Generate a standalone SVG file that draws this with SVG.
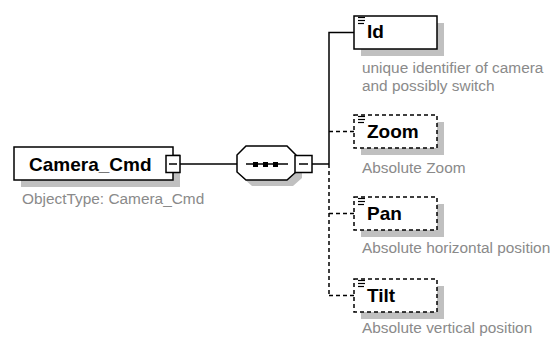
<svg xmlns="http://www.w3.org/2000/svg" width="558" height="349" viewBox="0 0 558 349">
<style>
.bg{fill:#ffffff}
.shadow{fill:#c0c0c0;stroke:none}
.box{fill:#ffffff;stroke:#000000;stroke-width:1.5}
.opt{fill:#ffffff;stroke:#000000;stroke-width:1.5;stroke-dasharray:4 3}
.lbl{font-family:"Liberation Sans",Arial,sans-serif;font-weight:bold;font-size:19px;fill:#000000}
.desc{font-family:"Liberation Sans",Arial,sans-serif;font-size:15.4px;fill:#8a8a8a}
.ln{fill:none;stroke:#000000;stroke-width:1.5}
.dash{fill:none;stroke:#000000;stroke-width:1.5;stroke-dasharray:4 3}
.icon{stroke:#000000;stroke-width:1.2}
</style>
<rect class="bg" x="0" y="0" width="558" height="349"/>
<defs>
<g id="ico">
<line class="icon" x1="0" y1="0.5" x2="7" y2="0.5"/>
<line class="icon" x1="0" y1="3.5" x2="7" y2="3.5"/>
<line class="icon" x1="0" y1="6.5" x2="6" y2="6.5"/>
</g>
</defs>
<g id="connectors">
<line class="ln" x1="180" y1="164" x2="237" y2="164"/>
<line class="ln" x1="312" y1="164" x2="329" y2="164"/>
<polyline class="ln" points="354,32.5 329,32.5 329,164"/>
<line class="dash" x1="329" y1="164" x2="329" y2="295.5"/>
<line class="dash" x1="329" y1="131.5" x2="354" y2="131.5"/>
<line class="dash" x1="329" y1="213.5" x2="354" y2="213.5"/>
<line class="dash" x1="329" y1="295.5" x2="354" y2="295.5"/>
</g>
<g id="Camera_Cmd">
<rect class="shadow" x="21" y="154" width="159" height="33"/>
<rect class="box" x="14" y="147" width="159" height="33"/>
<text class="lbl" x="29" y="171">Camera_Cmd</text>
<rect class="box" x="166" y="155.5" width="14" height="17"/>
<line class="ln" x1="169" y1="164" x2="177" y2="164"/>
<text class="desc" x="22" y="204">ObjectType: Camera_Cmd</text>
</g>
<g id="sequence">
<polygon class="shadow" points="252,152 293,152 302,161 302,178 293,186 252,186 243,178 243,161"/>
<polygon class="box" points="246,146 287,146 296,155 296,172 287,180 246,180 237,172 237,155"/>
<line class="ln" x1="246" y1="164" x2="288" y2="164"/>
<rect x="253" y="162" width="5" height="5" fill="#000"/>
<rect x="263" y="162" width="5" height="5" fill="#000"/>
<rect x="273" y="162" width="5" height="5" fill="#000"/>
<rect class="box" x="295" y="155.5" width="17" height="17"/>
<line class="ln" x1="299" y1="164" x2="308" y2="164"/>
</g>
<g id="Id">
<rect class="shadow" x="361" y="23" width="83" height="33"/>
<rect class="box" x="354" y="16" width="83" height="33"/>
<use href="#ico" x="358" y="17"/>
<text class="lbl" x="367" y="38">Id</text>
<text class="desc" x="362" y="73">unique identifier of camera</text>
<text class="desc" x="362" y="91">and possibly switch</text>
</g>
<g id="Zoom">
<rect class="shadow" x="361" y="122" width="83" height="33"/>
<rect class="opt" x="354" y="115" width="83" height="33"/>
<use href="#ico" x="358" y="116"/>
<text class="lbl" x="367" y="138">Zoom</text>
<text class="desc" x="362" y="173">Absolute Zoom</text>
</g>
<g id="Pan">
<rect class="shadow" x="361" y="204" width="83" height="33"/>
<rect class="opt" x="354" y="197" width="83" height="33"/>
<use href="#ico" x="358" y="198"/>
<text class="lbl" x="367" y="220">Pan</text>
<text class="desc" x="362" y="253">Absolute horizontal position</text>
</g>
<g id="Tilt">
<rect class="shadow" x="361" y="286" width="83" height="33"/>
<rect class="opt" x="354" y="279" width="83" height="33"/>
<use href="#ico" x="358" y="280"/>
<text class="lbl" x="367" y="302">Tilt</text>
<text class="desc" x="362" y="333">Absolute vertical position</text>
</g>
</svg>
